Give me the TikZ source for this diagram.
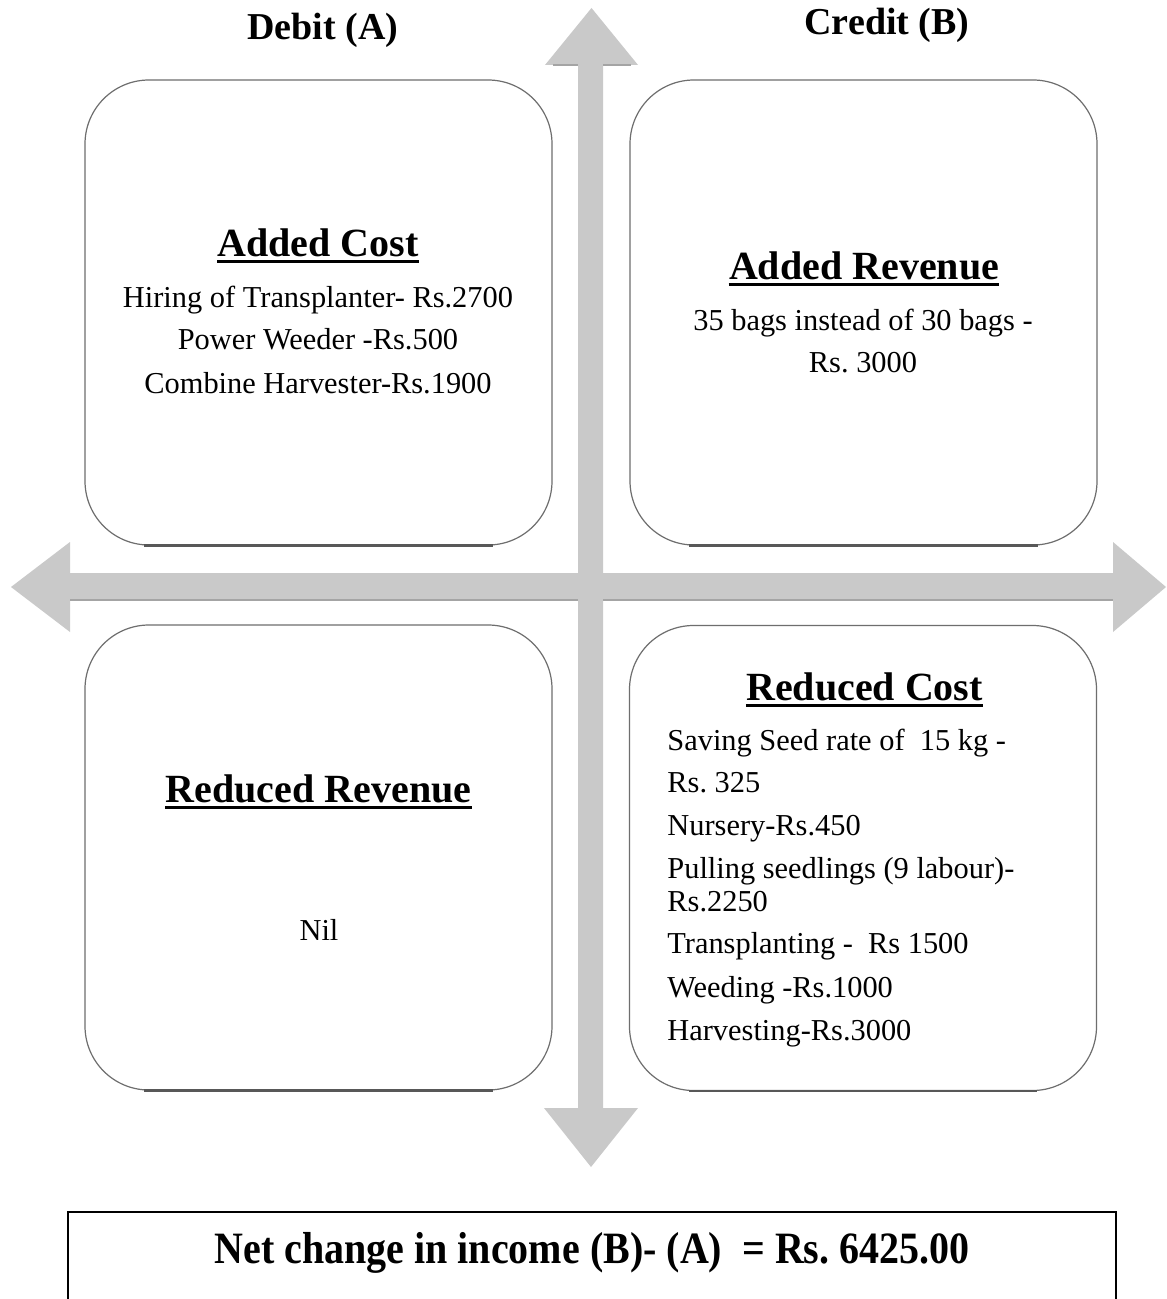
\documentclass[tikz,border=0pt]{standalone}
\usepackage{fontspec}
\setmainfont{Liberation Serif}
\frenchspacing
\definecolor{arrowgray}{HTML}{C9C9C9}
\definecolor{arrowdark}{HTML}{A4A4A4}
\definecolor{boxline}{HTML}{6E6E6E}
\begin{document}
\begin{tikzpicture}[x=0.5pt,y=-0.5pt,
  qbox/.style={draw=boxline, line width=0.6pt, rounded corners=32pt, minimum width=233.5pt, minimum height=232.5pt, fill=white, inner sep=0pt},
  boxshadow/.style={draw=boxline!80!black, line width=1.3pt},
  ttl/.style={font=\fontsize{20}{24}\selectfont\bfseries, inner sep=0pt, anchor=base},
  body/.style={font=\fontsize{15.2}{18}\selectfont, inner sep=0pt, anchor=base},
  bodyl/.style={font=\fontsize{15.2}{18}\selectfont, inner sep=0pt, anchor=base west},
  hdr/.style={font=\fontsize{19}{23}\selectfont\bfseries, inner sep=0pt, anchor=base},
  uline/.style={line width=1.5pt},
]
\useasboundingbox (0,0) rectangle (1166,1299);
\fill[white] (0,0) rectangle (1166,1299);

% axes arrows
\fill[arrowgray] (578,65) -- (545,65) -- (591.5,8) -- (638,65) -- (603,65) -- (603,1108) -- (638,1108) -- (591,1167) -- (544,1108) -- (578,1108) -- cycle;
\fill[arrowgray] (70,573) -- (70,542) -- (11,587) -- (70,632) -- (70,600) -- (1113,600) -- (1113,632) -- (1166,587) -- (1113,542) -- (1113,573) -- cycle;
\draw[arrowdark, line width=1.4pt] (70,600) -- (578,600) (603,600) -- (1113,600);
\draw[arrowdark, line width=1.4pt] (553,65) -- (578,65) (603,65) -- (631,65);

% quadrant boxes
\node[qbox] (ac) at (318.5,312.5) {};
\node[qbox] (ar) at (863.5,312.5) {};
\node[qbox] (rr) at (318.5,857.5) {};
\node[qbox] (rc) at (863,858) {};
\foreach \b in {ac,ar,rr,rc}{
  \draw[boxshadow] ([xshift=30pt]\b.south west) -- ([xshift=-30pt]\b.south east);
}

% headers
\node[hdr] (debit) at (323,40) {Debit (A)};
\node[hdr] (credit) at (887,35) {Credit (B)};

% Added Cost
\node[ttl] (t1) at (318,257) {Added Cost};
\draw[uline] ([yshift=-2.5pt]t1.base west) -- ([yshift=-2.5pt]t1.base east);
\node[body] (a1) at (318,307) {Hiring of Transplanter- Rs.2700};
\node[body] (a2) at (318,350) {Power Weeder -Rs.500};
\node[body] (a3) at (318,393) {Combine Harvester-Rs.1900};

% Added Revenue
\node[ttl] (t2) at (864,280) {Added Revenue};
\draw[uline] ([yshift=-2.5pt]t2.base west) -- ([yshift=-2.5pt]t2.base east);
\node[body] (b1) at (863,330) {35 bags instead of 30 bags -};
\node[body] (b2) at (863,372) {Rs. 3000};

% Reduced Revenue
\node[ttl] (t3) at (318.5,802) {Reduced Revenue};
\draw[uline] ([yshift=-2.5pt]t3.base west) -- ([yshift=-2.5pt]t3.base east);
\node[body] (c1) at (319,940) {Nil};

% Reduced Cost
\node[ttl] (t4) at (864.5,700) {Reduced Cost};
\draw[uline] ([yshift=-2.5pt]t4.base west) -- ([yshift=-2.5pt]t4.base east);
\node[bodyl] (d1) at (667,750) {Saving Seed rate of~ 15 kg -};
\node[bodyl] (d2) at (667,792) {Rs. 325};
\node[bodyl] (d3) at (667,835) {Nursery-Rs.450};
\node[bodyl] (d4) at (667,878) {Pulling seedlings (9 labour)-};
\node[bodyl] (d5) at (667,911) {Rs.2250};
\node[bodyl] (d6) at (667,953) {Transplanting -~ Rs 1500};
\node[bodyl] (d7) at (667,997) {Weeding -Rs.1000};
\node[bodyl] (d8) at (667,1040) {Harvesting-Rs.3000};

% net change
\draw[line width=0.8pt] (68,1299) -- (68,1212) -- (1116,1212) -- (1116,1299);
\node[font=\fontsize{20}{24}\selectfont\bfseries, inner sep=0pt, anchor=base] (net) at (592,1263) {\scalebox{1}[1.12]{Net change in income (B)- (A)~ = Rs. 6425.00}};
\end{tikzpicture}
\end{document}
